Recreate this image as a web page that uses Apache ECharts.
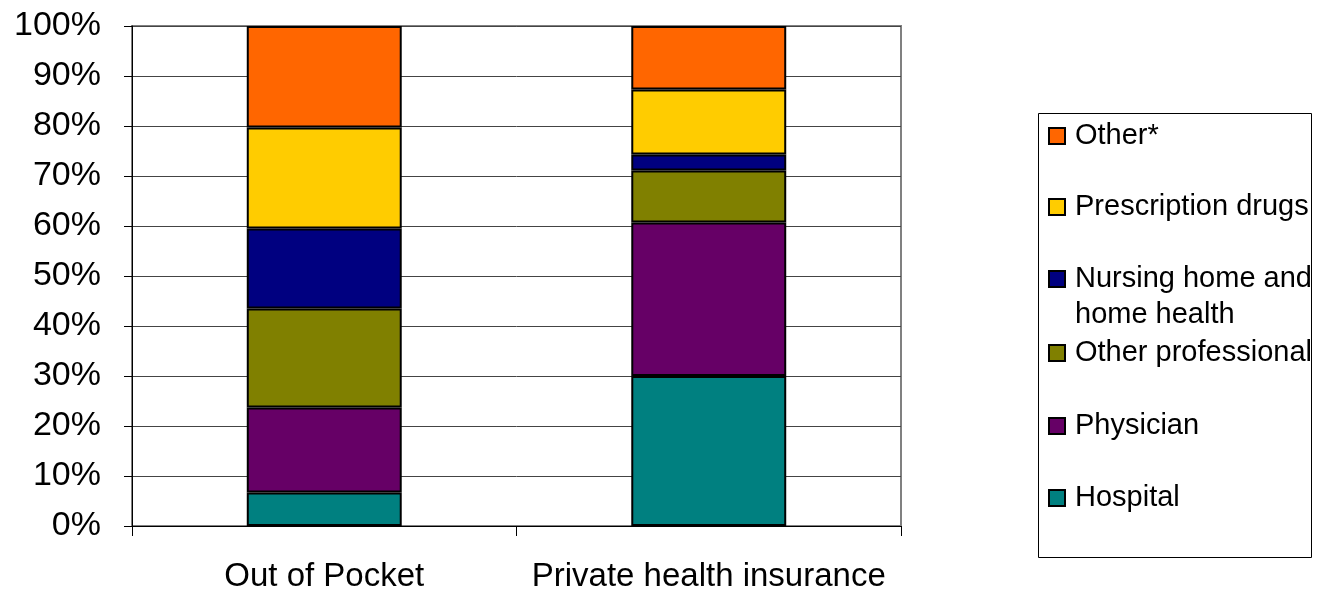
<!DOCTYPE html>
<html>
<head>
<meta charset="utf-8">
<script src="https://cdn.jsdelivr.net/npm/echarts@6/dist/echarts.min.js"></script>
<style>
  html, body { margin: 0; padding: 0; background: #fff; }
  #chart { width: 1319px; height: 592px; }
</style>
</head>
<body>
<div id="chart"></div>
<script>
// Share of spending by service type, by payer (percent of total)
const categories = ['Out of Pocket', 'Private health insurance'];
const seriesNames = ['Hospital', 'Physician', 'Other professional', 'Nursing home and home health', 'Prescription drugs', 'Other*'];
const hospital = [6.7, 30.0];
const physician = [17.0, 30.7];
const otherProfessional = [19.8, 10.4];
const nursingHome = [16.0, 3.2];
const prescriptionDrugs = [20.2, 13.0];
const other = [20.3, 12.7];
const yTicks = [0, 10, 20, 30, 40, 50, 60, 70, 80, 90, 100];

const seriesValues = [hospital, physician, otherProfessional, nursingHome, prescriptionDrugs, other];
const colors = ['#008080', '#660066', '#808000', '#000080', '#FFCC00', '#FF6600'];
const FONT = 'Liberation Sans, Arial, sans-serif';

const chart = echarts.init(document.getElementById('chart'), null, { renderer: 'canvas' });

// Legend rows, top to bottom (reverse stacking order), one legend per row
const legendOrder = seriesNames.slice().reverse();
const legendLabels = {
  'Nursing home and home health': 'Nursing home and\nhome health'
};
const legendRowTop = [118, 189, 261, 335, 408, 480];

// Square swatch with some room on its right; the two-line row keeps the
// swatch level with its first line of text.
const swatch = 'path://M0,0H16V16H0Z M21,16';
const swatchTall = 'path://M0,0H16V16H0Z M21,52';

const legends = legendOrder.map((name, i) => {
  const tall = !!legendLabels[name];
  return {
    data: [name],
    left: 1048,
    top: legendRowTop[i],
    padding: 0,
    itemWidth: 21,
    itemHeight: tall ? 52 : 16,
    itemGap: 0,
    selectedMode: false,
    icon: tall ? swatchTall : swatch,
    symbolKeepAspect: false,
    formatter: n => legendLabels[n] || n,
    textStyle: {
      fontFamily: FONT,
      fontSize: 29,
      color: '#000',
      lineHeight: 36
    }
  };
});

chart.setOption({
  animation: false,
  backgroundColor: '#fff',
  grid: {
    left: 132, right: 418, top: 26, bottom: 66,
    outerBoundsMode: 'none',
    containLabel: false,
    show: true,
    borderColor: '#808080',
    borderWidth: 2,
    backgroundColor: 'transparent'
  },
  graphic: [{
    type: 'rect',
    shape: { x: 1038.5, y: 113.5, width: 273, height: 444 },
    style: { fill: 'none', stroke: '#000', lineWidth: 1 },
    silent: true
  }],
  legend: legends,
  xAxis: {
    type: 'category',
    data: categories,
    boundaryGap: true,
    axisLine: { show: true, lineStyle: { color: '#000', width: 1 } },
    axisTick: { show: true, alignWithLabel: false, length: 10, lineStyle: { color: '#000' } },
    axisLabel: { fontFamily: FONT, fontSize: 33, color: '#000', margin: 34, interval: 0 },
    splitLine: { show: false },
    z: 5
  },
  yAxis: {
    type: 'value',
    min: 0, max: 100, interval: 10,
    axisLine: { show: true, lineStyle: { color: '#000', width: 1 } },
    axisTick: { show: true, length: 8, lineStyle: { color: '#000' } },
    axisLabel: {
      fontFamily: FONT, fontSize: 34, color: '#000', margin: 31,
      formatter: v => (yTicks.includes(v) ? v + '%' : '')
    },
    splitLine: { show: true, lineStyle: { color: '#444', width: 1 } }
  },
  series: seriesNames.map((name, i) => ({
    name,
    type: 'bar',
    stack: 'total',
    barWidth: '40.3%',
    data: seriesValues[i],
    itemStyle: { color: colors[i], borderColor: '#000', borderWidth: 2 },
    emphasis: { disabled: true }
  }))
});
</script>
</body>
</html>
